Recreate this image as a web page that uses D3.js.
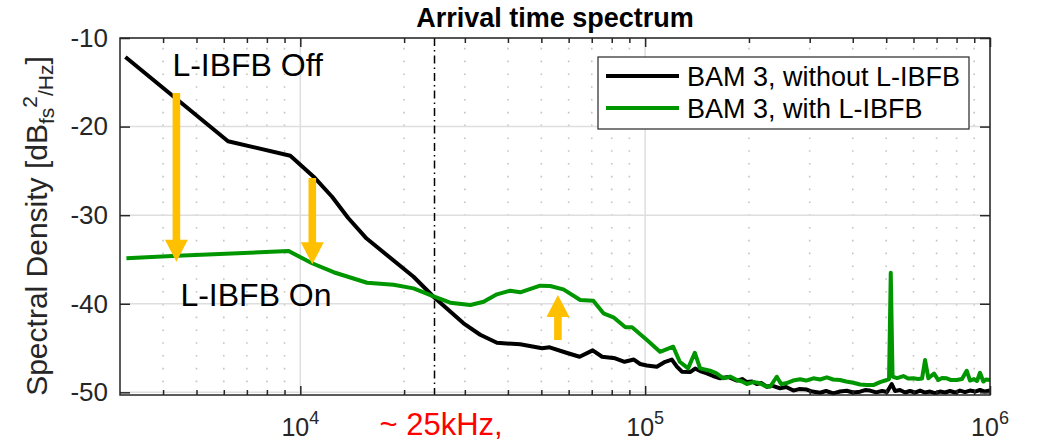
<!DOCTYPE html>
<html>
<head>
<meta charset="utf-8">
<script src="https://cdn.jsdelivr.net/npm/d3@7"></script>
<style>
  html, body { margin: 0; padding: 0; background: #fff; }
  svg { display: block; font-family: "Liberation Sans", Arial, Helvetica, sans-serif; }
</style>
</head>
<body>
<svg id="chart" width="1038" height="443"></svg>
<script>
// Arrival time spectrum: BAM 3 with and without the L-IBFB feedback loop

// --- BAM 3, without L-IBFB (black) ---
const offFreq = [3110, 6172, 9355, 10930, 12360, 13770, 15570, 21300, 24340, 29740,
  33240, 37170, 43410, 50260, 52840, 59090, 64550, 70450, 75020, 81850,
  87150, 92730, 96720, 101100, 108100, 114300, 119500, 123600, 127800, 135000,
  139600, 144300, 151000, 157400, 165000, 174000, 184500, 191100, 197200, 204200,
  210800, 216900, 225300, 233400, 246200, 256300, 269100, 279500, 294200, 304900,
  321600, 334700, 351300, 367400, 384100, 400800, 420100, 434300, 449000, 467300,
  486400, 502700, 518900, 530400, 548300, 567000, 586400, 606200, 626800, 648200,
  670100, 693000, 716100, 740700, 765600, 791700, 818400, 846300, 875000, 904700,
  935400, 967100, 1000000];
const offPsd = [-12.15, -21.66, -23.29, -25.66, -27.92, -30.32, -32.64, -36.95, -39.21, -42.21,
  -43.5, -44.4, -44.58, -45.03, -44.92, -45.53, -45.98, -45.26, -45.98, -46.16,
  -46.55, -46.3, -46.8, -46.97, -47.1, -46.55, -46.3, -47.1, -47.67, -47.71,
  -47.31, -47.6, -47.85, -48.16, -48.42, -48.27, -48.67, -48.5, -48.84, -48.78,
  -49.06, -48.95, -49.37, -49.23, -49.55, -49.4, -49.8, -49.63, -49.69, -49.91,
  -50.05, -49.85, -50.11, -49.91, -49.82, -50.02, -49.93, -49.74, -49.8, -50.0,
  -49.85, -49.97, -49.06, -49.85, -49.74, -50.02, -49.85, -50.02, -49.8, -50.02,
  -49.91, -50.08, -49.91, -50.02, -49.85, -50.02, -49.8, -49.97, -49.8, -49.91,
  -49.74, -49.91, -49.8];

// --- BAM 3, with L-IBFB (green) ---
const onFreq = [3131, 4391, 9250, 10814, 12490, 15610, 18640, 21300, 24340, 27220,
  31130, 34000, 37170, 40610, 43410, 49600, 53020, 57920, 64840, 70730,
  75690, 80900, 87650, 91640, 101200, 110400, 120600, 126000, 133200, 139300,
  144300, 154300, 160600, 168700, 176300, 184500, 191100, 197200, 205600, 215400,
  222700, 230300, 240800, 247900, 256000, 268500, 281400, 292900, 307400, 321600,
  336300, 350700, 367400, 382400, 401600, 420100, 439200, 458900, 479900, 501900,
  509600, 515500, 521700, 537600, 560800, 578600, 599400, 618500, 635300, 648200,
  662700, 674700, 688300, 708300, 726100, 749200, 770900, 800800, 829500, 855900,
  875000, 898700, 916900, 935400, 956400, 973700, 1000000];
const onPsd = [-34.87, -34.58, -34.05, -35.43, -36.44, -37.63, -37.85, -38.26, -39.16, -39.88,
  -40.14, -39.77, -38.94, -38.53, -38.71, -37.96, -38.0, -38.37, -39.58, -39.66,
  -41.08, -41.53, -42.66, -42.66, -44.1, -45.42, -44.85, -46.55, -47.29, -45.53,
  -47.29, -47.56, -47.82, -48.42, -48.22, -48.61, -48.78, -49.06, -48.84, -48.98,
  -49.29, -49.37, -48.24, -49.06, -48.98, -48.67, -48.53, -48.67, -48.42, -48.55,
  -48.31, -48.55, -48.61, -48.78, -48.92, -49.12, -49.18, -49.18, -48.84, -48.61,
  -48.5, -36.5, -48.22, -48.39, -48.16, -48.44, -48.42, -48.5, -48.44, -46.35,
  -48.42, -48.16, -47.88, -48.61, -48.39, -48.42, -48.61, -48.61, -48.5, -47.56,
  -48.67, -48.5, -48.72, -47.79, -48.78, -48.55, -48.61];

// Axis ticks
const xMajorTicks = [1e4, 1e5, 1e6];
const xMajorExp = ["4", "5", "6"];
const xMinorTicks = [4000, 5000, 6000, 7000, 8000, 9000,
  20000, 30000, 40000, 50000, 60000, 70000, 80000, 90000,
  200000, 300000, 400000, 500000, 600000, 700000, 800000, 900000];
const yTicks = [-50, -40, -30, -20, -10];

// Legend entries
const seriesNames = ["BAM 3, without L-IBFB", "BAM 3, with L-IBFB"];
const seriesColors = ["#000000", "#009600"];

// Annotations: arrows [frequency, from dB, to dB]
const arrows = [[4372, -16.2, -35.25], [10834, -25.8, -35.55], [55850, -44.1, -39.0]];
const cutoffFreq = 24500;

const svg = d3.select("#chart");
const L = 120, R = 990, T = 38, B = 395;
const x = d3.scaleLog().domain([3000, 1e6]).range([L, R]);
const y = d3.scaleLinear().domain([-50.3, -10]).range([B, T]);
const axisColor = "#262626";

// Grid
const grid = svg.append("g");
grid.selectAll(".minor").data(xMinorTicks).join("line")
  .attr("x1", d => x(d)).attr("x2", d => x(d)).attr("y1", B).attr("y2", T)
  .attr("stroke", "#c4c4c4").attr("stroke-width", 1.6).attr("stroke-dasharray", "1.6,11.2");
grid.selectAll(".majx").data(xMajorTicks).join("line")
  .attr("x1", d => x(d)).attr("x2", d => x(d)).attr("y1", B).attr("y2", T)
  .attr("stroke", "#dedede").attr("stroke-width", 1.5);
grid.selectAll(".majy").data(yTicks).join("line")
  .attr("x1", L).attr("x2", R).attr("y1", d => y(d)).attr("y2", d => y(d))
  .attr("stroke", "#dedede").attr("stroke-width", 1.5);

// Cutoff marker (dash-dot)
svg.append("line")
  .attr("x1", x(cutoffFreq)).attr("x2", x(cutoffFreq)).attr("y1", T).attr("y2", B)
  .attr("stroke", "#000").attr("stroke-width", 1.5).attr("stroke-dasharray", "8,4,1.5,4");

// Curves
const line = d3.line().x(d => x(d[0])).y(d => y(d[1]));
const offData = offFreq.map((f, i) => [f, offPsd[i]]);
const onData = onFreq.map((f, i) => [f, onPsd[i]]);
[offData, onData].forEach((data, i) => {
  svg.append("path").datum(data).attr("d", line)
    .attr("fill", "none").attr("stroke", seriesColors[i])
    .attr("stroke-width", 4).attr("stroke-linejoin", "round").attr("stroke-linecap", "butt");
});

// Arrows
function arrowPath(f, v0, v1) {
  const cx = x(f), y0 = y(v0), y1 = y(v1);
  const dir = y1 > y0 ? 1 : -1;
  const hw = 3.8, hh = 11.5, hl = 22;
  const yb = y1 - dir * hl;
  return `M${cx - hw},${y0} L${cx + hw},${y0} L${cx + hw},${yb} L${cx + hh},${yb} L${cx},${y1} L${cx - hh},${yb} L${cx - hw},${yb} Z`;
}
svg.selectAll(".arrow").data(arrows).join("path")
  .attr("d", d => arrowPath(d[0], d[1], d[2]))
  .attr("fill", "#FFC000");

// Annotation texts
svg.append("text").attr("x", x(4256)).attr("y", y(-14.29))
  .attr("font-size", 32).attr("fill", "#000").text("L-IBFB Off");
svg.append("text").attr("x", x(4490)).attr("y", y(-40.26))
  .attr("font-size", 32).attr("fill", "#000").text("L-IBFB On");
svg.append("text").attr("x", x(cutoffFreq) - 55).attr("y", 435)
  .attr("font-size", 31).attr("fill", "#ff0000").text("~ 25kHz,");

// Axes ticks (inward)
const gx = svg.append("g").attr("transform", `translate(0,${B})`)
  .call(d3.axisBottom(x).tickValues(xMajorTicks).tickSizeInner(-9).tickSizeOuter(0).tickFormat(""));
const gxm = svg.append("g").attr("transform", `translate(0,${B})`)
  .call(d3.axisBottom(x).tickValues(xMinorTicks).tickSizeInner(-5).tickSizeOuter(0).tickFormat(""));
const gt = svg.append("g").attr("transform", `translate(0,${T})`)
  .call(d3.axisTop(x).tickValues(xMajorTicks).tickSizeInner(-9).tickSizeOuter(0).tickFormat(""));
const gtm = svg.append("g").attr("transform", `translate(0,${T})`)
  .call(d3.axisTop(x).tickValues(xMinorTicks).tickSizeInner(-5).tickSizeOuter(0).tickFormat(""));
const gy = svg.append("g").attr("transform", `translate(${L},0)`)
  .call(d3.axisLeft(y).tickValues(yTicks).tickSizeInner(-10).tickSizeOuter(0).tickPadding(12)
    .tickFormat(d => String(d)));
const gr = svg.append("g").attr("transform", `translate(${R},0)`)
  .call(d3.axisRight(y).tickValues(yTicks).tickSizeInner(-10).tickSizeOuter(0).tickFormat(""));
[gx, gxm, gt, gtm, gy, gr].forEach(g => {
  g.select(".domain").remove();
  g.selectAll(".tick line").attr("stroke", axisColor).attr("stroke-width", 1.5);
});
gy.selectAll(".tick text").attr("font-size", 26).attr("fill", axisColor)
  .attr("font-family", "Liberation Sans, Arial, sans-serif");

// Log-axis labels with superscript exponents
const xl = svg.append("g");
xMajorTicks.forEach((t, i) => {
  const tx = xl.append("text").attr("x", x(t)).attr("y", 436)
    .attr("text-anchor", "middle").attr("fill", axisColor).attr("font-size", 25);
  tx.append("tspan").text("10");
  tx.append("tspan").attr("font-size", 18).attr("dy", -12).text(xMajorExp[i]);
});

// Box
svg.append("rect").attr("x", L).attr("y", T).attr("width", R - L).attr("height", B - T)
  .attr("fill", "none").attr("stroke", axisColor).attr("stroke-width", 1.5);

// Title
svg.append("text").attr("x", (L + R) / 2).attr("y", 27).attr("text-anchor", "middle")
  .attr("font-size", 27).attr("font-weight", "bold").attr("fill", "#000")
  .text("Arrival time spectrum");

// Y label
const yl = svg.append("text").attr("transform", "translate(47,226) rotate(-90)")
  .attr("text-anchor", "middle").attr("fill", axisColor).attr("font-size", 30);
yl.append("tspan").text("Spectral Density [dB");
yl.append("tspan").attr("font-size", 21).attr("dy", 7).text("fs");
yl.append("tspan").attr("font-size", 21).attr("dy", -17).text("2");
yl.append("tspan").attr("font-size", 21).attr("dy", 16).text("/Hz");
yl.append("tspan").attr("dy", -6).text("]");

// Legend
const lg = svg.append("g");
lg.append("rect").attr("x", 598).attr("y", 57).attr("width", 371).attr("height", 72)
  .attr("fill", "#fff").attr("stroke", axisColor).attr("stroke-width", 1.2);
seriesNames.forEach((name, i) => {
  const yy = 76 + i * 32;
  lg.append("line").attr("x1", 606).attr("x2", 679).attr("y1", yy).attr("y2", yy)
    .attr("stroke", seriesColors[i]).attr("stroke-width", 4);
  lg.append("text").attr("x", 687).attr("y", yy + 10).attr("font-size", 27)
    .attr("fill", "#000").text(name);
});
</script>
</body>
</html>
